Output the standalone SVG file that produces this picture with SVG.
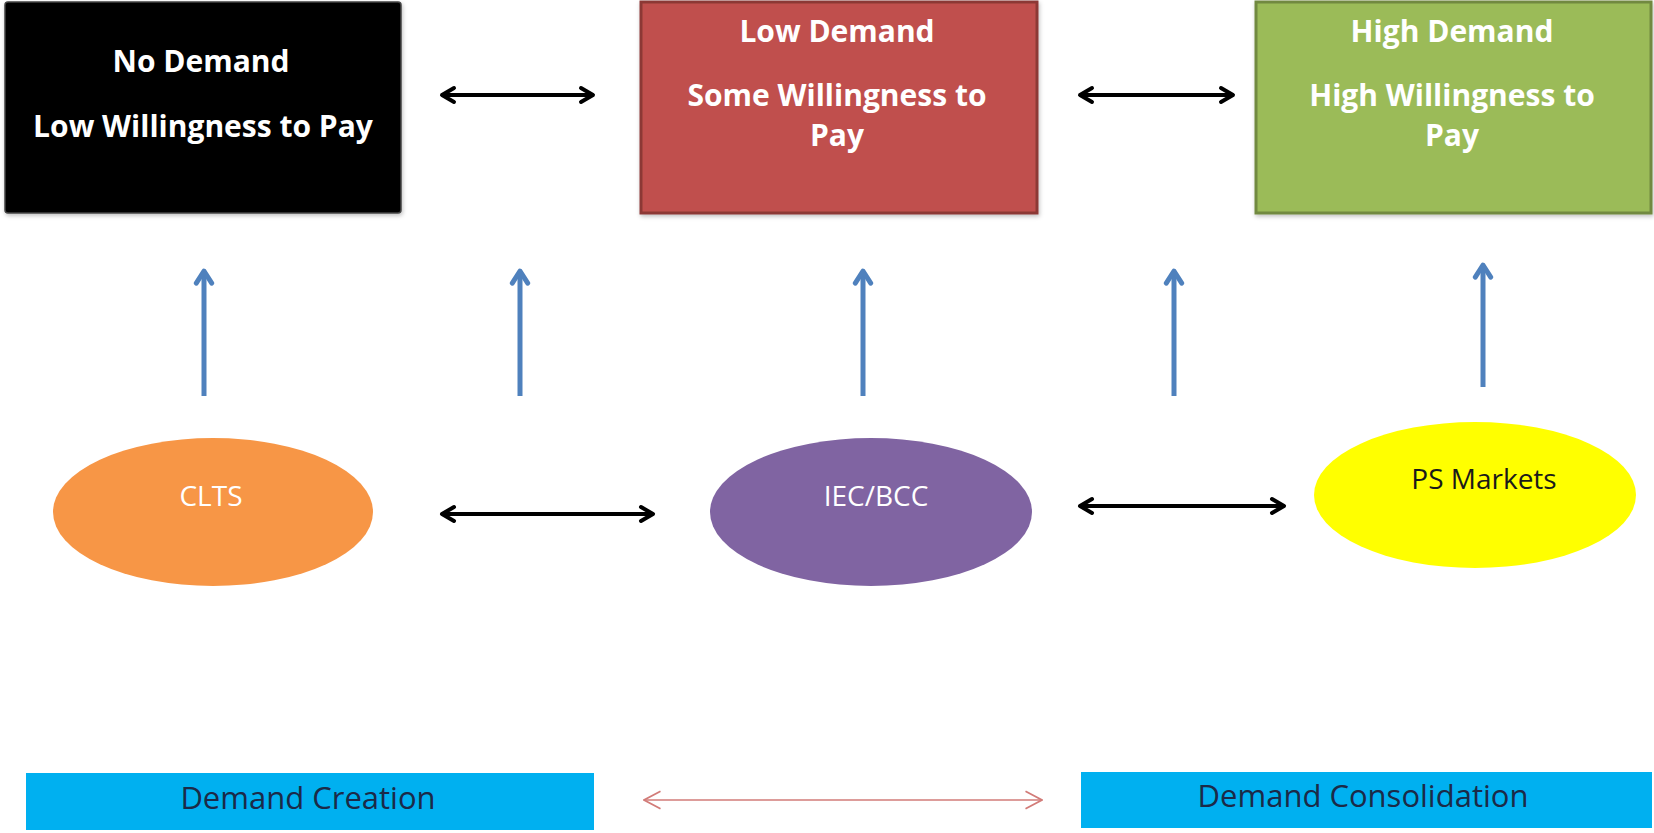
<svg xmlns="http://www.w3.org/2000/svg" width="1654" height="833" viewBox="0 0 1654 833">
<style>
.hd{font-family:"Open Sans","Liberation Sans",sans-serif;font-weight:bold;font-size:30px;fill:#ffffff;text-anchor:middle}
.el{font-family:"Open Sans","Liberation Sans",sans-serif;font-size:28px;text-anchor:middle}
.bt{font-family:"Open Sans","Liberation Sans",sans-serif;font-size:31px;fill:#1b2a48;text-anchor:middle}
.blk{stroke:#000;stroke-width:4;fill:none}
.blu{stroke:#4f81bd;stroke-width:5;fill:none}
.red{stroke:#d27b78;stroke-width:1.6;fill:none}
</style>
<defs>
<marker id="mBlk" viewBox="0 0 20 20" refX="17" refY="10" markerWidth="20" markerHeight="20" markerUnits="userSpaceOnUse" orient="auto-start-reverse">
<path d="M5,3 L17,10 L5,17" fill="none" stroke="#000" stroke-width="4" stroke-linecap="round" stroke-linejoin="round"/>
</marker>
<marker id="mBlu" viewBox="0 0 20 20" refX="17" refY="10" markerWidth="22" markerHeight="22" markerUnits="userSpaceOnUse" orient="auto">
<path d="M6,3 L17,10 L6,17" fill="none" stroke="#4f81bd" stroke-width="4.5" stroke-linecap="round" stroke-linejoin="round"/>
</marker>
<marker id="mRed" viewBox="0 0 20 20" refX="19" refY="10" markerWidth="22" markerHeight="22" markerUnits="userSpaceOnUse" orient="auto-start-reverse">
<path d="M4,2 L19,10 L4,18" fill="none" stroke="#d27b78" stroke-width="1.6"/>
</marker>
<filter id="sh" x="-5%" y="-5%" width="110%" height="115%">
<feDropShadow dx="1" dy="2" stdDeviation="2" flood-color="#000" flood-opacity="0.25"/>
</filter>
</defs>
<rect width="1654" height="833" fill="#ffffff"/>

<g id="node-no-demand">
<rect x="5" y="2" width="396" height="211" rx="3" fill="#000000" stroke="#444" stroke-width="1.5" filter="url(#sh)"/>
<text class="hd" x="201" y="72">No Demand</text>
<text class="hd" x="203" y="137">Low Willingness to Pay</text>
</g>
<g id="node-low-demand">
<rect x="641" y="2" width="396" height="211" fill="#c0504d" stroke="#8c3836" stroke-width="3" filter="url(#sh)"/>
<text class="hd" x="837" y="42">Low Demand</text>
<text class="hd" x="837" y="106">Some Willingness to</text>
<text class="hd" x="837" y="146">Pay</text>
</g>
<g id="node-high-demand">
<rect x="1256" y="2" width="395" height="211" fill="#9bbb59" stroke="#71893f" stroke-width="3" filter="url(#sh)"/>
<text class="hd" x="1452" y="42">High Demand</text>
<text class="hd" x="1452" y="106">High Willingness to</text>
<text class="hd" x="1452" y="146">Pay</text>
</g>

<g id="node-clts">
<ellipse cx="213" cy="512" rx="160" ry="74" fill="#f79646"/>
<text class="el" x="211" y="506" fill="#ffffff">CLTS</text>
</g>
<g id="node-iec-bcc">
<ellipse cx="871" cy="512" rx="161" ry="74" fill="#8064a2"/>
<text class="el" x="876" y="506" fill="#ffffff">IEC/BCC</text>
</g>
<g id="node-ps-markets">
<ellipse cx="1475" cy="495" rx="161" ry="73" fill="#ffff00"/>
<text class="el" x="1484" y="489" fill="#1a1a1a">PS Markets</text>
</g>

<g id="node-demand-creation">
<rect x="26" y="773" width="568" height="57" fill="#00b0f0"/>
<text class="bt" x="308" y="809">Demand Creation</text>
</g>
<g id="node-demand-consolidation">
<rect x="1081" y="772" width="571" height="56" fill="#00b0f0"/>
<text class="bt" x="1363" y="807">Demand Consolidation</text>
</g>

<g id="connectors">
<line class="blk" x1="442" y1="95" x2="593" y2="95" marker-start="url(#mBlk)" marker-end="url(#mBlk)"/>
<line class="blk" x1="1080" y1="95" x2="1233" y2="95" marker-start="url(#mBlk)" marker-end="url(#mBlk)"/>
<line class="blk" x1="442" y1="514" x2="653" y2="514" marker-start="url(#mBlk)" marker-end="url(#mBlk)"/>
<line class="blk" x1="1080" y1="506" x2="1284" y2="506" marker-start="url(#mBlk)" marker-end="url(#mBlk)"/>
<line class="blu" x1="204" y1="396" x2="204" y2="271" marker-end="url(#mBlu)"/>
<line class="blu" x1="520" y1="396" x2="520" y2="271" marker-end="url(#mBlu)"/>
<line class="blu" x1="863" y1="396" x2="863" y2="271" marker-end="url(#mBlu)"/>
<line class="blu" x1="1174" y1="396" x2="1174" y2="271" marker-end="url(#mBlu)"/>
<line class="blu" x1="1483" y1="387" x2="1483" y2="265" marker-end="url(#mBlu)"/>
<line class="red" x1="644" y1="800" x2="1042" y2="800" marker-start="url(#mRed)" marker-end="url(#mRed)"/>
</g>
</svg>
